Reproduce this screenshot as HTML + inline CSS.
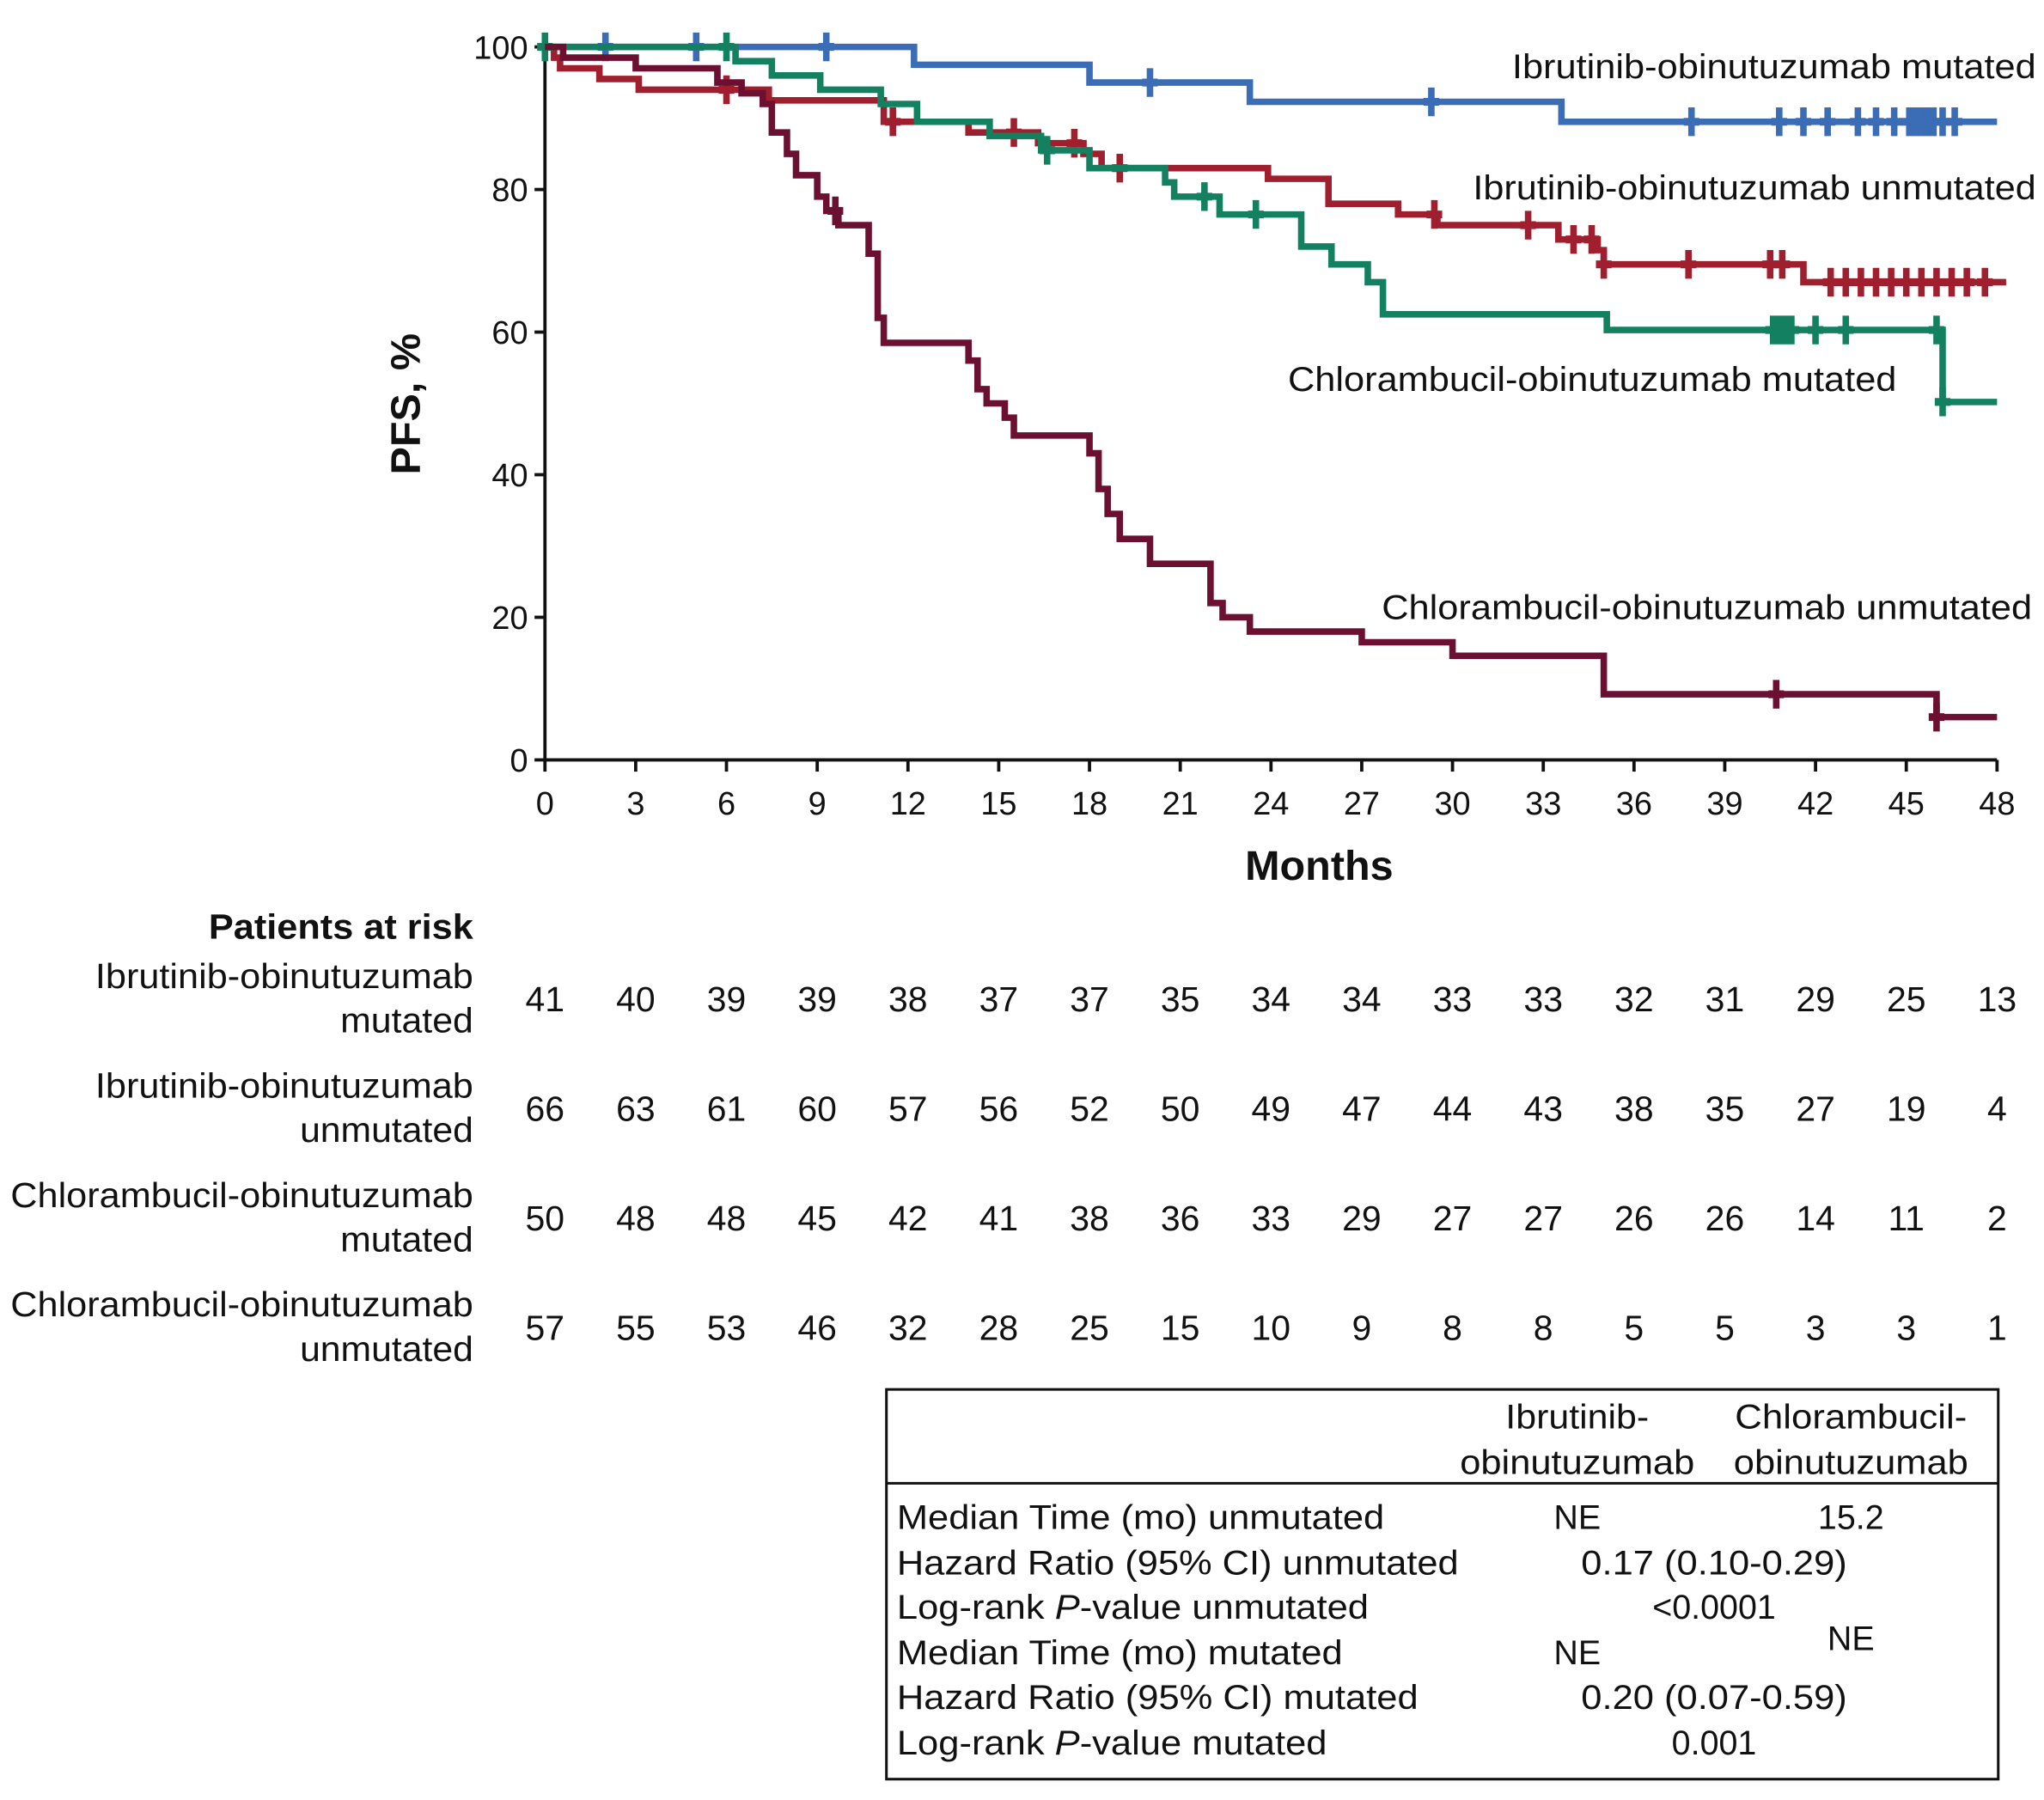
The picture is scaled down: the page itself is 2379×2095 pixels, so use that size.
<!DOCTYPE html><html><head><meta charset="utf-8"><style>html,body{margin:0;padding:0;background:#fff}svg{display:block}text{font-family:"Liberation Sans",sans-serif;fill:#111}</style></head><body>
<svg id="s" width="2379" height="2095" viewBox="0 0 1568 1381" xmlns="http://www.w3.org/2000/svg">
<g font-size="26">
<text x="1562" y="60" text-anchor="end" textLength="402" lengthAdjust="spacingAndGlyphs">Ibrutinib-obinutuzumab mutated</text>
<text x="1562" y="153" text-anchor="end" textLength="432" lengthAdjust="spacingAndGlyphs">Ibrutinib-obinutuzumab unmutated</text>
<text x="1455" y="300" text-anchor="end" textLength="467" lengthAdjust="spacingAndGlyphs">Chlorambucil-obinutuzumab mutated</text>
<text x="1559" y="475" text-anchor="end" textLength="499" lengthAdjust="spacingAndGlyphs">Chlorambucil-obinutuzumab unmutated</text>
</g>
<text transform="translate(322,310) rotate(-90)" text-anchor="middle" font-size="32" font-weight="bold">PFS, %</text>
<text x="1012" y="675" text-anchor="middle" font-size="32" font-weight="bold">Months</text>
<g id="ax" stroke="#111" stroke-width="2.5" fill="none"></g>
<g id="yl" font-size="25" text-anchor="end"></g>
<g id="xl" font-size="25" text-anchor="middle"></g>
<g id="curves"></g>
<text x="363" y="720" text-anchor="end" font-size="27" font-weight="bold" textLength="203" lengthAdjust="spacingAndGlyphs">Patients at risk</text>
<g font-size="27" text-anchor="end">
<text x="363" y="758" textLength="290" lengthAdjust="spacingAndGlyphs">Ibrutinib-obinutuzumab</text><text x="363" y="792" textLength="102" lengthAdjust="spacingAndGlyphs">mutated</text>
<text x="363" y="842" textLength="290" lengthAdjust="spacingAndGlyphs">Ibrutinib-obinutuzumab</text><text x="363" y="876" textLength="133" lengthAdjust="spacingAndGlyphs">unmutated</text>
<text x="363" y="926" textLength="355" lengthAdjust="spacingAndGlyphs">Chlorambucil-obinutuzumab</text><text x="363" y="960" textLength="102" lengthAdjust="spacingAndGlyphs">mutated</text>
<text x="363" y="1010" textLength="355" lengthAdjust="spacingAndGlyphs">Chlorambucil-obinutuzumab</text><text x="363" y="1044" textLength="133" lengthAdjust="spacingAndGlyphs">unmutated</text>
</g>
<g id="risk" font-size="27" text-anchor="middle"></g>
<rect x="680" y="1066" width="853" height="299" fill="none" stroke="#111" stroke-width="2"/>
<line x1="680" y1="1138" x2="1533" y2="1138" stroke="#111" stroke-width="2"/>
<g font-size="26">
<text x="1210" y="1096" text-anchor="middle" textLength="110" lengthAdjust="spacingAndGlyphs">Ibrutinib-</text>
<text x="1210" y="1131" text-anchor="middle" textLength="180" lengthAdjust="spacingAndGlyphs">obinutuzumab</text>
<text x="1420" y="1096" text-anchor="middle" textLength="178" lengthAdjust="spacingAndGlyphs">Chlorambucil-</text>
<text x="1420" y="1131" text-anchor="middle" textLength="180" lengthAdjust="spacingAndGlyphs">obinutuzumab</text>
<text x="688" y="1173" textLength="374" lengthAdjust="spacingAndGlyphs">Median Time (mo) unmutated</text>
<text x="688" y="1208" textLength="431" lengthAdjust="spacingAndGlyphs">Hazard Ratio (95% CI) unmutated</text>
<text x="688" y="1242" textLength="362" lengthAdjust="spacingAndGlyphs">Log-rank <tspan font-style="italic">P</tspan>-value unmutated</text>
<text x="688" y="1277" textLength="342" lengthAdjust="spacingAndGlyphs">Median Time (mo) mutated</text>
<text x="688" y="1311" textLength="400" lengthAdjust="spacingAndGlyphs">Hazard Ratio (95% CI) mutated</text>
<text x="688" y="1346" textLength="330" lengthAdjust="spacingAndGlyphs">Log-rank <tspan font-style="italic">P</tspan>-value mutated</text>
<text x="1210" y="1173" text-anchor="middle">NE</text>
<text x="1420" y="1173" text-anchor="middle">15.2</text>
<text x="1315" y="1208" text-anchor="middle" textLength="204" lengthAdjust="spacingAndGlyphs">0.17 (0.10-0.29)</text>
<text x="1315" y="1242" text-anchor="middle">&lt;0.0001</text>
<text x="1210" y="1277" text-anchor="middle">NE</text>
<text x="1420" y="1266" text-anchor="middle">NE</text>
<text x="1315" y="1311" text-anchor="middle" textLength="204" lengthAdjust="spacingAndGlyphs">0.20 (0.07-0.59)</text>
<text x="1315" y="1346" text-anchor="middle">0.001</text>
</g>
</svg>
<script>
var NS="http://www.w3.org/2000/svg";
function X(m){return 418+m*23.21}function Y(p){return 583-p*5.47}
function el(t,a,par,txt){var e=document.createElementNS(NS,t);for(var k in a)e.setAttribute(k,a[k]);if(txt!=null)e.textContent=txt;document.getElementById(par).appendChild(e);return e}
el("path",{d:"M418,36 V583 H1532"},"ax");
for(var i=0;i<=5;i++){var y=Y(i*20);el("line",{x1:410,y1:y,x2:418,y2:y},"ax");el("text",{x:405,y:y+9},"yl",String(i*20));}
for(var i=0;i<=16;i++){var x=X(i*3);el("line",{x1:x,y1:583,x2:x,y2:592},"ax");el("text",{x:x,y:625},"xl",String(i*3));}
function curve(col,steps,end,cens){var d="M"+X(0)+","+Y(100);
for(var i=0;i<steps.length;i++){d+=" H"+X(steps[i][0])+" V"+Y(steps[i][1]);}
d+=" H"+X(end);el("path",{d:d,stroke:col,"stroke-width":5,fill:"none"},"curves");
function val(m){var r=100;for(var i=0;i<steps.length;i++)if(steps[i][0]<=m)r=steps[i][1];return r}
cens.forEach(function(m){var x=X(m),y=Y(val(m));el("line",{x1:x,y1:y-11,x2:x,y2:y+11,stroke:col,"stroke-width":5},"curves");el("line",{x1:x-6,y1:y,x2:x+6,y2:y,stroke:col,"stroke-width":6},"curves")});}
curve("#3a6db5",[[12.2,97.5],[18,95],[23.3,92.3],[33.6,89.5]],48,[2,5,9.3,20,29.3,37.9,40.8,41.6,42.4,43.4,44,44.6,45.1,45.3,45.5,45.7,45.9,46.2,46.6]);
curve("#a01f2f",[[0.3,98.5],[0.5,97],[1.8,95.5],[3.1,94],[7.4,92.5],[11.2,89.5],[14,88],[16.3,86.5],[17.8,85],[18.4,83],[23.9,81.5],[25.9,78],[28.2,76.5],[29.5,75],[33.5,73],[34.8,71.5],[35,69.5],[41.6,67]],48.3,[6,11.5,15.5,17.5,19,29.4,32.5,34,34.6,35,37.8,40.5,40.9,42.5,43,43.5,44,44.5,45,45.5,46,46.5,47,47.6]);
curve("#138160",[[6.3,98],[7.5,96],[9.1,94],[11.1,92],[12.3,89.5],[14.7,87.5],[16.4,85.5],[18,83],[20.5,81],[20.8,79],[22.3,76.5],[25,72],[26,69.5],[27.2,67],[27.7,62.5],[35.1,60.3],[46.2,50.2]],48,[0,6,16.6,21.8,23.5,40.6,40.8,41,41.2,42,43,46,46.2]);
curve("#6b1030",[[0.6,98.5],[3,97],[5.7,95],[6.5,93.5],[7.2,92],[7.5,88],[8,85],[8.3,82],[9,79],[9.3,77],[9.7,75],[10.7,71],[11,62],[11.2,58.5],[14,56],[14.3,52],[14.6,50],[15.2,48],[15.5,45.5],[18,43],[18.3,38],[18.6,34.5],[19,31],[20,27.5],[22,22],[22.4,20],[23.3,18],[27,16.5],[30,14.6],[35,9.2],[46,6]],48,[9.6,40.7,46]);
var R=[[41,40,39,39,38,37,37,35,34,34,33,33,32,31,29,25,13],[66,63,61,60,57,56,52,50,49,47,44,43,38,35,27,19,4],[50,48,48,45,42,41,38,36,33,29,27,27,26,26,14,11,2],[57,55,53,46,32,28,25,15,10,9,8,8,5,5,3,3,1]];
R.forEach(function(r,j){r.forEach(function(v,i){el("text",{x:X(i*3),y:776+j*84},"risk",String(v))})});
</script>
</body></html>
